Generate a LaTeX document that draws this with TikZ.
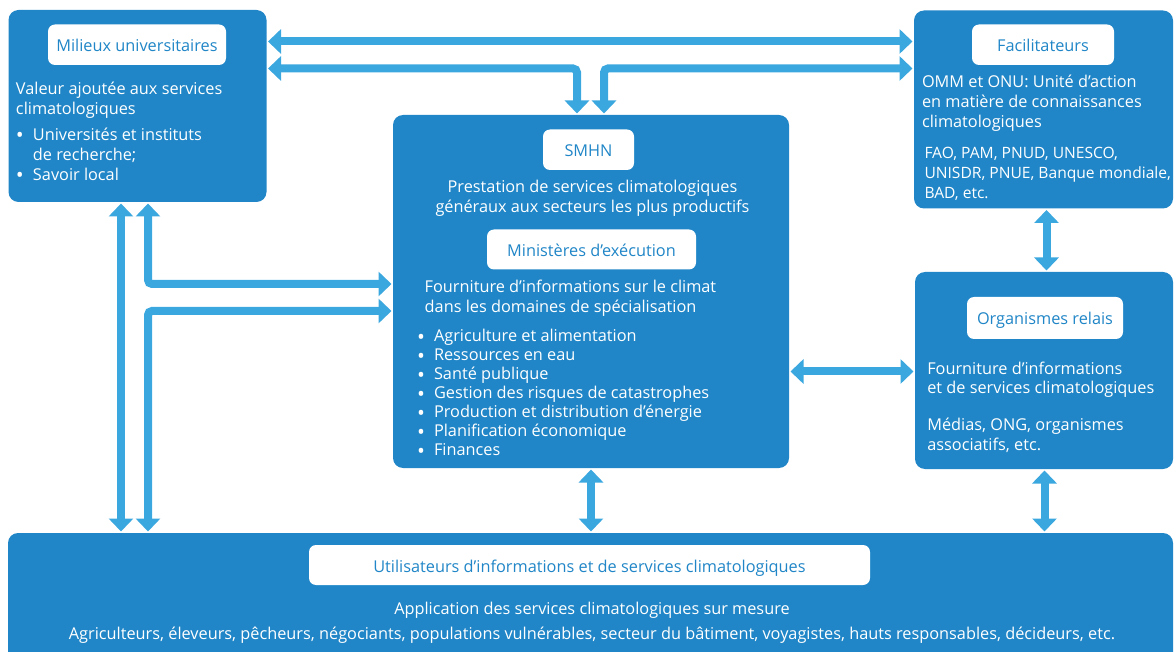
\documentclass[tikz,border=0pt]{standalone}
\usepackage{fontspec}
\setmainfont{Open Sans}
\usetikzlibrary{arrows.meta}
\definecolor{boxblue}{RGB}{32,134,199}
\definecolor{arrowblue}{RGB}{59,167,223}
\newcommand\bodyfont{\fontsize{16.3}{20}\selectfont}
\newcommand\listfont{\fontsize{16.3}{19}\selectfont}
\newcommand\orgfont{\fontsize{15.6}{20}\selectfont}
\newcommand\bul{\makebox[17pt][l]{\raisebox{-2.5pt}{\fontsize{21}{0}\selectfont •}}}
\begin{document}
\begin{tikzpicture}[x=1pt,y=-1pt,
  every node/.style={inner sep=0pt, outer sep=0pt},
  panel/.style={fill=boxblue, rounded corners=10pt, anchor=north west},
  tag/.style={fill=white, rounded corners=7pt, anchor=north west, text=boxblue,
    font=\bodyfont, text height=14pt, text depth=0pt},
  body/.style={text=white, font=\bodyfont, anchor=base west, align=left},
  link/.style={draw=arrowblue, line width=8pt, rounded corners=4pt,
    {Triangle[width=24pt,length=13pt]}-{Triangle[width=24pt,length=13pt]},
    shorten <=1.5pt, shorten >=1.5pt},
]
\clip (0,0) rectangle (1176,652);

% panels
\node[panel, minimum width=258pt, minimum height=192pt] (univ) at (8.5,10) {};
\node[panel, minimum width=259pt, minimum height=198pt] (facil) at (914,10.5) {};
\node[panel, minimum width=258pt, minimum height=197pt] (relais) at (915,272) {};
\node[panel, minimum width=396pt, minimum height=353pt] (centre) at (393,115) {};
\node[panel, minimum width=1165pt, minimum height=150pt] (users) at (8,533) {};

% titles
\node[tag, minimum width=178pt, minimum height=40.5pt] (univtag) at (48,24.5) {Milieux universitaires};
\node[tag, minimum width=142pt, minimum height=40.5pt] (faciltag) at (972,24.5) {Facilitateurs};
\node[tag, minimum width=156pt, minimum height=42pt] (relaistag) at (967,297) {Organismes relais};
\node[tag, minimum width=91pt, minimum height=40.5pt] (smhntag) at (543,129.5) {SMHN};
\node[tag, minimum width=209pt, minimum height=40pt] (mintag) at (487,229.5) {Ministères d’exécution};
\node[tag, minimum width=561pt, minimum height=40pt] (userstag) at (309,545) {Utilisateurs d’informations et de services climatologiques};

% panel texts (each placed by the baseline of its last line)
\node[body] (univtxt) at (16,180.3) {Valeur ajoutée aux services\\climatologiques\\[6pt]
  \bul Universités et instituts\\\hspace*{17pt}de recherche;\\\bul Savoir local};
\node[body] (faciltxt) at (922,127.3) {OMM et ONU: Unité d’action\\en matière de connaissances\\climatologiques};
\node[body, font=\orgfont] (facilorgs) at (924.5,198.5) {FAO, PAM, PNUD, UNESCO,\\UNISDR, PNUE, Banque mondiale,\\BAD, etc.};
\node[body] (relaistxt) at (927.3,394) {Fourniture d’informations\\et de services climatologiques};
\node[body] (relaisorgs) at (927.3,450.7) {Médias, ONG, organismes\\associatifs, etc.};
\node[body, anchor=base, align=center] (smhntxt) at (592.5,212.5)
  {Prestation de services climatologiques\\généraux aux secteurs les plus productifs};
\node[body] (mintxt) at (424.7,313) {Fourniture d’informations sur le climat\\dans les domaines de spécialisation};
\node[body, font=\listfont] (minlist) at (417,455.5) {\bul Agriculture et alimentation\\\bul Ressources en eau\\
  \bul Santé publique\\\bul Gestion des risques de catastrophes\\\bul Production et distribution d’énergie\\
  \bul Planification économique\\\bul Finances};
\node[body, anchor=base, align=center] (userstxt) at (592,639)
  {Application des services climatologiques sur mesure\\[5pt]
   Agriculteurs, éleveurs, pêcheurs, négociants, populations vulnérables, secteur du bâtiment, voyagistes, hauts responsables, décideurs, etc.};

% guide coordinates for the connectors
\coordinate (row1) at (0,41.5);
\coordinate (row2) at (0,68.5);
\coordinate (row3) at (0,284);
\coordinate (row4) at (0,311);
\coordinate (row5) at (0,371.5);
\coordinate (colA) at (121,0);
\coordinate (colB) at (148,0);
\coordinate (colC) at (577,0);
\coordinate (colD) at (604,0);
\coordinate (colE) at (1046.5,0);
\coordinate (colF) at (1044.5,0);

% connectors
\draw[link] (univ.east |- row1) -- (facil.west |- row1);
\draw[link] (univ.east |- row2) -| (centre.north -| colC);
\draw[link] (facil.west |- row2) -| (centre.north -| colD);
\draw[link] (univ.south -| colA) -- (users.north -| colA);
\draw[link] (univ.south -| colB) |- (centre.west |- row3);
\draw[link] (centre.west |- row4) -| (users.north -| colB);
\draw[link] (centre.south) -- (centre.south |- users.north);
\draw[link] (facil.south -| colE) -- (relais.north -| colE);
\draw[link] (centre.east |- row5) -- (relais.west |- row5);
\draw[link] (relais.south -| colF) -- (users.north -| colF);
\end{tikzpicture}
\end{document}
